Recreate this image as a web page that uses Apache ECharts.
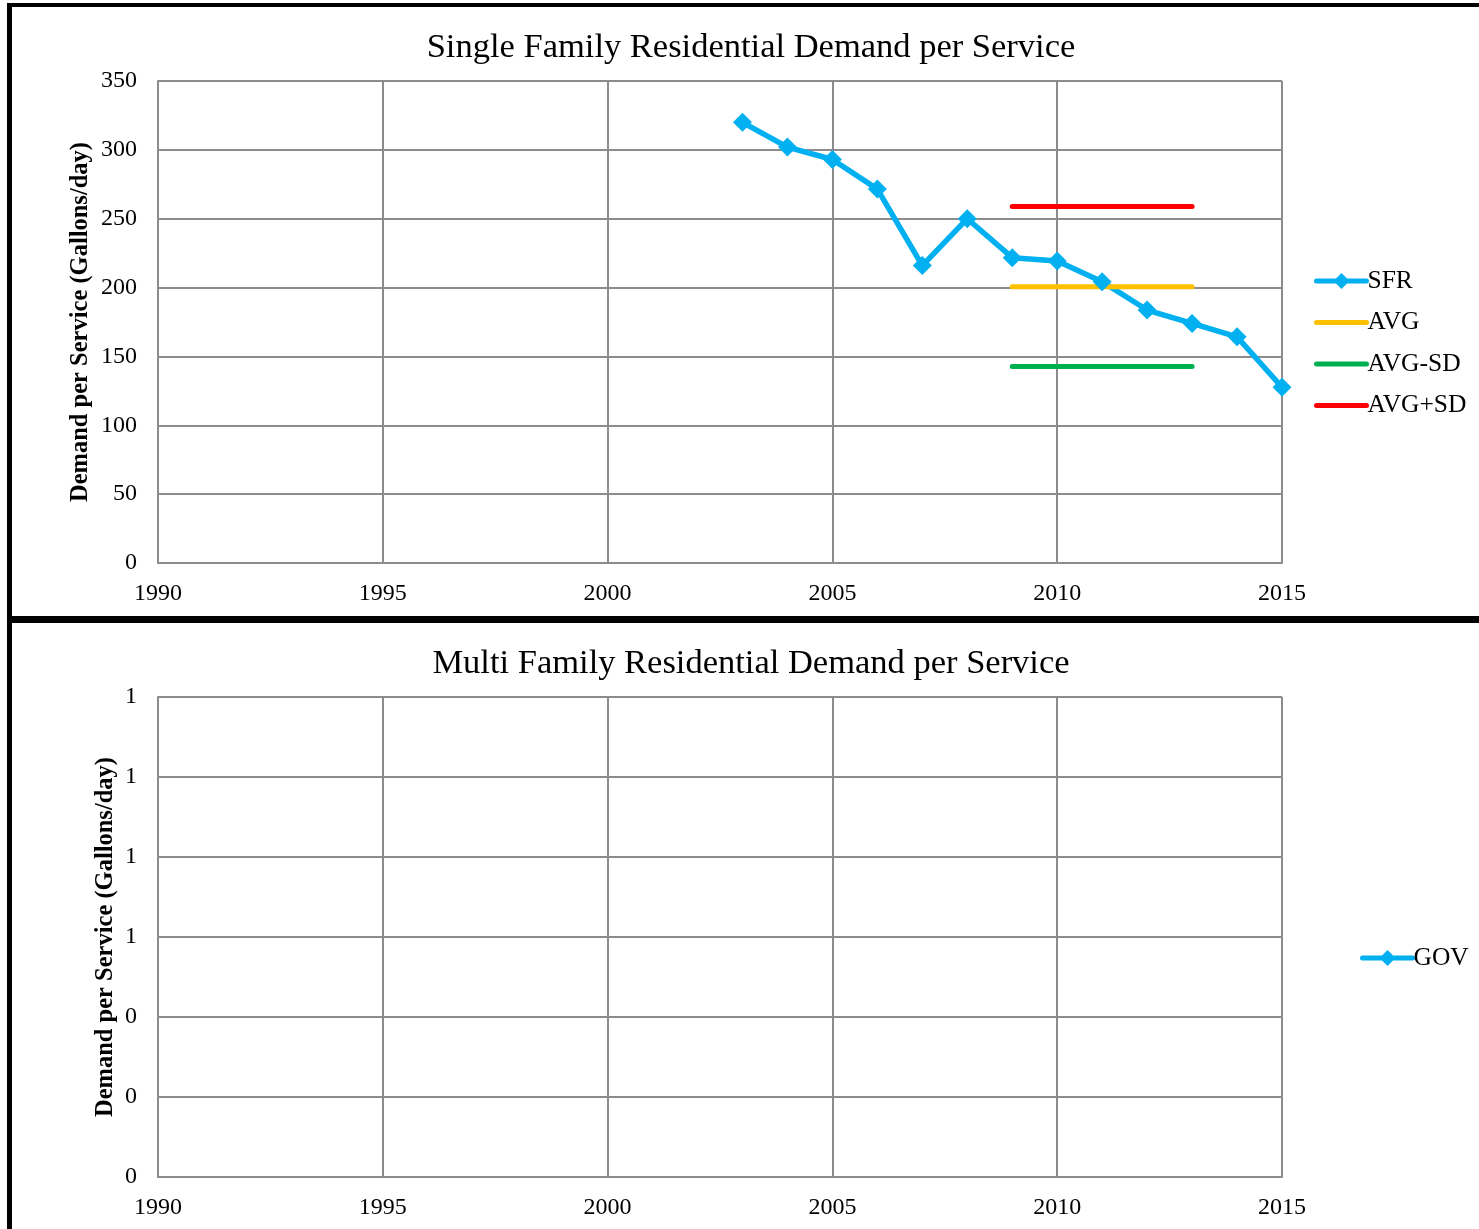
<!DOCTYPE html>
<html>
<head>
<meta charset="utf-8">
<script src="https://cdn.jsdelivr.net/npm/echarts@6.0.0/dist/echarts.min.js"></script>
<style>
  html, body { margin: 0; padding: 0; background: #fff; overflow: hidden; }
  #chart { position: absolute; left: 0; top: 0; width: 1479px; height: 1229px; }
  .frame { position: absolute; box-sizing: border-box; border: 0 solid #000; pointer-events: none; }
  #frameTop { left: 7px; top: 3px; width: 2000px; height: 620px; border-width: 4px 0 7px 5px; }
  #frameBottom { left: 7px; top: 616px; width: 2000px; height: 1000px; border-width: 0 0 0 5px; }
</style>
</head>
<body>
<div id="chart"></div>
<div class="frame" id="frameTop"></div>
<div class="frame" id="frameBottom"></div>
<script>
const FONT = "'Liberation Serif', 'Times New Roman', serif"

// single family residential demand per service (gallons/day)
const sfrYears = [2003, 2004, 2005, 2006, 2007, 2008, 2009, 2010, 2011, 2012, 2013, 2014, 2015]
const sfrValues = [320, 302, 293, 271.5, 216, 250, 221.7, 219.3, 204.3, 183.7, 174, 164.2, 127.6]

// statistics band over 2009-2013
const statYears = [2009, 2013]
const avgValue = 200.6
const avgMinusSd = 142.6
const avgPlusSd = 258.8

// multi family chart has no data
const govYears = []
const govValues = []

const xTicks = { min: 1990, max: 2015, interval: 5 }
const topY = { min: 0, max: 350, interval: 50 }
const bottomY = { min: 0, max: 1.2, interval: 0.2 }

const gridColor = '#8c8c8c'
const blue = '#00B0F0'

const chart = echarts.init(document.getElementById('chart'))

function xAxis(gridIndex) {
  return {
    type: 'value',
    gridIndex: gridIndex,
    min: xTicks.min,
    max: xTicks.max,
    interval: xTicks.interval,
    axisLine: { show: true, lineStyle: { color: gridColor, width: 2 } },
    axisTick: { show: false },
    splitLine: { show: true, lineStyle: { color: gridColor, width: 2 } },
    axisLabel: {
      margin: 19,
      color: '#000',
      fontFamily: FONT,
      fontSize: 24,
      formatter: (v) => String(v),
    },
  }
}

function yAxis(gridIndex, range, nameGap, formatter) {
  return {
    type: 'value',
    gridIndex: gridIndex,
    min: range.min,
    max: range.max,
    interval: range.interval,
    name: 'Demand per Service (Gallons/day)',
    nameLocation: 'middle',
    nameRotate: 90,
    nameGap: nameGap,
    nameMoveOverlap: false,
    nameTextStyle: { color: '#000', fontFamily: FONT, fontSize: 24.5, fontWeight: 'bold' },
    axisLine: { show: true, lineStyle: { color: gridColor, width: 2 } },
    axisTick: { show: false },
    splitLine: { show: true, lineStyle: { color: gridColor, width: 2 } },
    axisLabel: {
      margin: 21,
      color: '#000',
      fontFamily: FONT,
      fontSize: 24,
      formatter: formatter,
    },
  }
}

function flatLine(name, value, color) {
  return {
    name: name,
    type: 'line',
    xAxisIndex: 0,
    yAxisIndex: 0,
    data: statYears.map((y) => [y, value]),
    symbol: 'none',
    lineStyle: { color: color, width: 5, cap: 'round' },
    itemStyle: { color: color },
    silent: true,
  }
}

const legendText = { color: '#000', fontFamily: FONT, fontSize: 25.5, lineHeight: 24, padding: [0, 0, 0, -4] }
const legendLine = { width: 5, cap: 'round' }
const noSymbol = { opacity: 0 }

const option = {
  animation: false,
  title: [
    {
      text: 'Single Family Residential Demand per Service',
      left: 746,
      textAlign: 'center',
      top: 25,
      textStyle: { color: '#000', fontFamily: FONT, fontSize: 34.5, fontWeight: 'normal' },
    },
    {
      text: 'Multi Family Residential Demand per Service',
      left: 746,
      textAlign: 'center',
      top: 641,
      textStyle: { color: '#000', fontFamily: FONT, fontSize: 34.5, fontWeight: 'normal' },
    },
  ],
  legend: [
    {
      orient: 'vertical',
      left: 1314,
      top: 268,
      padding: 0,
      itemWidth: 50,
      itemHeight: 20,
      itemGap: 15.5,
      textStyle: legendText,
      lineStyle: legendLine,
      data: [
        { name: 'SFR' },
        { name: 'AVG', itemStyle: noSymbol },
        { name: 'AVG-SD', itemStyle: noSymbol },
        { name: 'AVG+SD', itemStyle: noSymbol },
      ],
    },
    {
      orient: 'vertical',
      left: 1360,
      top: 945,
      padding: 0,
      itemWidth: 50,
      itemHeight: 20,
      textStyle: legendText,
      lineStyle: legendLine,
      data: ['GOV'],
    },
  ],
  grid: [
    { left: 158, top: 81, width: 1124, height: 482 },
    { left: 158, top: 697, width: 1124, height: 480 },
  ],
  xAxis: [xAxis(0), xAxis(1)],
  yAxis: [
    yAxis(0, topY, 65, (v) => String(v)),
    yAxis(1, bottomY, 40, (v) => String(Math.round(v))),
  ],
  series: [
    {
      name: 'SFR',
      type: 'line',
      xAxisIndex: 0,
      yAxisIndex: 0,
      data: sfrYears.map((y, i) => [y, sfrValues[i]]),
      symbol: 'diamond',
      symbolSize: 19,
      lineStyle: { color: blue, width: 5.5 },
      itemStyle: { color: blue },
      z: 3,
    },
    flatLine('AVG', avgValue, '#FFC000'),
    flatLine('AVG-SD', avgMinusSd, '#00B050'),
    flatLine('AVG+SD', avgPlusSd, '#FF0000'),
    {
      name: 'GOV',
      type: 'line',
      xAxisIndex: 1,
      yAxisIndex: 1,
      data: govYears.map((y, i) => [y, govValues[i]]),
      symbol: 'diamond',
      symbolSize: 19,
      lineStyle: { color: blue, width: 5.5 },
      itemStyle: { color: blue },
    },
  ],
}

chart.setOption(option)
</script>
</body>
</html>
